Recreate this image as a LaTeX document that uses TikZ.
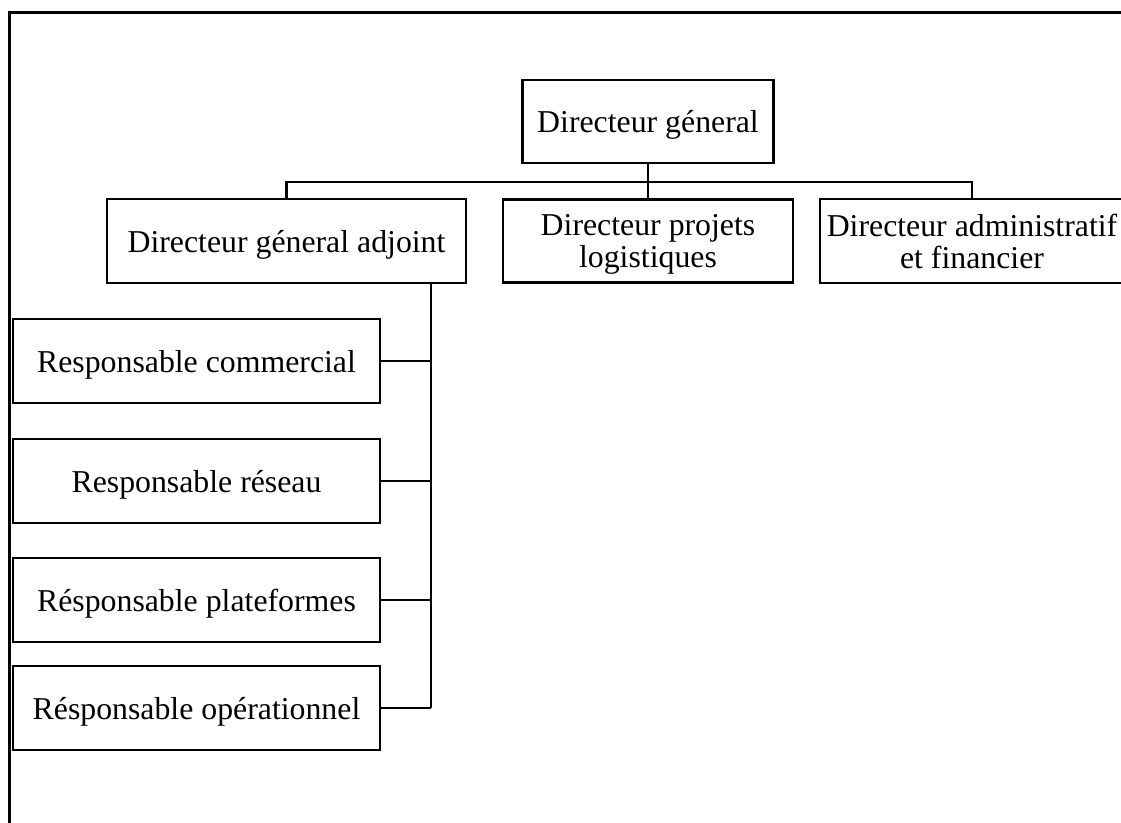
\documentclass[tikz,border=0pt]{standalone}
\usepackage{fontspec}
\setmainfont{Liberation Serif}
\begin{document}
\begin{tikzpicture}[x=0.75pt, y=-0.75pt,
  box/.style={draw, line width=1.6pt, inner sep=0pt, align=center,
    text depth=0pt, font=\fontsize{23.85}{24}\selectfont},
  link/.style={line width=1.6pt}]
\useasboundingbox (0,0) rectangle (1121,822);
\clip (0,0) rectangle (1121,822);
\fill[white] (0,0) rectangle (1121,822);

% outer frame (runs off the right and bottom edges)
\draw[line width=2.1pt] (9.5,840) -- (9.5,12.5) -- (1140,12.5);

% top level
\node[box, minimum width=188.25pt, minimum height=62.25pt] (DG) at (648,121.5) {Directeur géneral};

% second level
\node[box, minimum width=269.25pt, minimum height=63pt] (DGA) at (286.5,241) {Directeur géneral adjoint};
\node[box, minimum width=217.5pt, minimum height=62.25pt] (DPL) at (648,241) {Directeur projets\\logistiques};
\node[box, minimum width=228pt, minimum height=63pt] (DAF) at (972,241) {Directeur administratif\\et financier};

% managers under the deputy director
\node[box, minimum width=275.25pt, minimum height=63pt] (RC) at (196.5,361) {Responsable commercial};
\node[box, minimum width=275.25pt, minimum height=63pt] (RR) at (196.5,481) {Responsable réseau};
\node[box, minimum width=275.25pt, minimum height=63pt] (RP) at (196.5,600) {Résponsable plateformes};
\node[box, minimum width=275.25pt, minimum height=63pt] (RO) at (196.5,708) {Résponsable opérationnel};

% bus between the top level and the second level
\coordinate (bus) at (648,182);
\draw[link] (DG.south) -- (DPL.north);
\draw[link] (DGA.north) -- (DGA.north |- bus) -- (DAF.north |- bus) -- (DAF.north);

% spine from the deputy director down to the managers
\coordinate (spine) at (431,283);
\draw[link] (spine) -- (spine |- RO.east);
\draw[link] (RC.east) -- (RC.east -| spine);
\draw[link] (RR.east) -- (RR.east -| spine);
\draw[link] (RP.east) -- (RP.east -| spine);
\draw[link] (RO.east) -- (RO.east -| spine);
\end{tikzpicture}
\end{document}
